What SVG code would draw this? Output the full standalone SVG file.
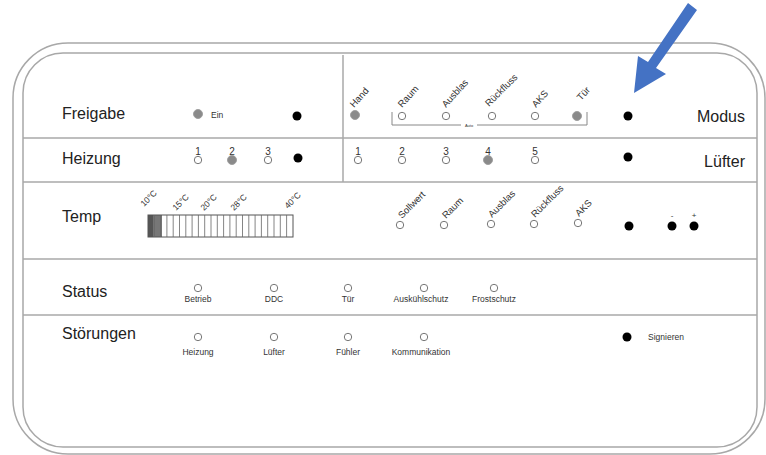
<svg xmlns="http://www.w3.org/2000/svg" width="766" height="455" viewBox="0 0 766 455">
<defs>
<style>
.frame{fill:none;stroke:#a8a8a8;stroke-width:1.5}
.div{stroke:#a8a8a8;stroke-width:1.5}
.lbl{font-family:"Liberation Sans",Arial,sans-serif;font-size:16px;fill:#222}
.sm{font-family:"Liberation Sans",Arial,sans-serif;font-size:8.5px;fill:#333}
.rot{font-family:"Liberation Sans",Arial,sans-serif;font-size:9.5px;fill:#333}
.num{font-family:"Liberation Sans",Arial,sans-serif;font-size:10px;fill:#333;text-anchor:middle}
.mid{text-anchor:middle}
.led{fill:#fff;stroke:#777;stroke-width:1}
.on{fill:#8a8a8a;stroke:#a0a0a0;stroke-width:1}
.dot{fill:#000}
.br{fill:none;stroke:#888;stroke-width:1}
.cell{stroke:#666;stroke-width:0.8}
</style>
</defs>
<rect width="766" height="455" fill="#fff"/>
<g id="frame">
<rect class="frame" x="13" y="43" width="752" height="411" rx="55" ry="55"/>
<rect class="frame" x="23" y="53" width="734" height="394" rx="40" ry="40"/>
</g>
<g id="connectors">
<line class="div" x1="23" y1="138" x2="757" y2="138"/>
<line class="div" x1="23" y1="182" x2="757" y2="182"/>
<line class="div" x1="23" y1="259" x2="757" y2="259"/>
<line class="div" x1="23" y1="315" x2="757" y2="315"/>
<line class="div" x1="343" y1="55" x2="343" y2="182"/>
</g>
<g id="freigabe">
<text class="lbl" x="62" y="119">Freigabe</text>
<circle class="on" cx="198" cy="114" r="4.5"/>
<text class="sm" x="211" y="118">Ein</text>
<circle class="dot" cx="297" cy="116" r="4.5"/>
</g>
<g id="heizung">
<text class="lbl" x="62" y="164">Heizung</text>
<text class="num" x="198" y="155">1</text>
<circle class="led" cx="198" cy="160" r="3.7"/>
<text class="num" x="232" y="155">2</text>
<circle class="on" cx="232" cy="160" r="4.5"/>
<text class="num" x="268" y="155">3</text>
<circle class="led" cx="268" cy="160" r="3.7"/>
<circle class="dot" cx="298" cy="158" r="4.5"/>
</g>
<g id="modus">
<circle class="on" cx="355" cy="115" r="4.5"/>
<text class="rot" transform="translate(354,108) rotate(-48)">Hand</text>
<circle class="led" cx="402" cy="116" r="3.7"/>
<text class="rot" transform="translate(402,108) rotate(-48)">Raum</text>
<circle class="led" cx="446" cy="116" r="3.7"/>
<text class="rot" transform="translate(446,108) rotate(-48)">Ausblas</text>
<circle class="led" cx="492" cy="116" r="3.7"/>
<text class="rot" transform="translate(489,107) rotate(-45)">Rückfluss</text>
<circle class="led" cx="535" cy="116" r="3.7"/>
<text class="rot" transform="translate(536,108) rotate(-48)">AKS</text>
<circle class="on" cx="577" cy="116" r="4.5"/>
<text class="rot" transform="translate(581,101) rotate(-48)">Tür</text>
<path class="br" d="M392,112 V125 H461 M477,125 H587 V112"/>
<text class="sm mid" x="469" y="127" style="font-size:4px">Auto</text>
<circle class="dot" cx="628" cy="116" r="4.5"/>
<text class="lbl" x="745" y="122" text-anchor="end">Modus</text>
</g>
<g id="luefter">
<text class="num" x="358" y="155">1</text>
<circle class="led" cx="358" cy="160" r="3.7"/>
<text class="num" x="402" y="155">2</text>
<circle class="led" cx="402" cy="160" r="3.7"/>
<text class="num" x="446" y="155">3</text>
<circle class="led" cx="446" cy="160" r="3.7"/>
<text class="num" x="488" y="155">4</text>
<circle class="on" cx="488" cy="160" r="4.5"/>
<text class="num" x="535" y="155">5</text>
<circle class="led" cx="535" cy="160" r="3.7"/>
<circle class="dot" cx="628" cy="157" r="4.5"/>
<text class="lbl" x="745" y="167" text-anchor="end">Lüfter</text>
</g>
<g id="temp">
<text class="lbl" x="62" y="222">Temp</text>
<rect x="148" y="215" width="14" height="22" fill="#777"/>
<rect x="148" y="215" width="5" height="22" fill="#555"/>
<rect x="148" y="215" width="145" height="22" fill="none" stroke="#555" stroke-width="1"/>
<g class="cell">
<line x1="154.3" y1="215" x2="154.3" y2="237"/><line x1="160.6" y1="215" x2="160.6" y2="237"/>
<line x1="166.9" y1="215" x2="166.9" y2="237"/><line x1="173.2" y1="215" x2="173.2" y2="237"/>
<line x1="179.5" y1="215" x2="179.5" y2="237"/><line x1="185.8" y1="215" x2="185.8" y2="237"/>
<line x1="192.1" y1="215" x2="192.1" y2="237"/><line x1="198.4" y1="215" x2="198.4" y2="237"/>
<line x1="204.7" y1="215" x2="204.7" y2="237"/><line x1="211" y1="215" x2="211" y2="237"/>
<line x1="217.3" y1="215" x2="217.3" y2="237"/><line x1="223.6" y1="215" x2="223.6" y2="237"/>
<line x1="229.9" y1="215" x2="229.9" y2="237"/><line x1="236.2" y1="215" x2="236.2" y2="237"/>
<line x1="242.5" y1="215" x2="242.5" y2="237"/><line x1="248.8" y1="215" x2="248.8" y2="237"/>
<line x1="255.1" y1="215" x2="255.1" y2="237"/><line x1="261.4" y1="215" x2="261.4" y2="237"/>
<line x1="267.7" y1="215" x2="267.7" y2="237"/><line x1="274" y1="215" x2="274" y2="237"/>
<line x1="280.3" y1="215" x2="280.3" y2="237"/><line x1="286.6" y1="215" x2="286.6" y2="237"/>
</g>
<text class="sm" style="font-size:8.5px" transform="translate(144,207) rotate(-45)">10°C</text>
<text class="sm" style="font-size:8.5px" transform="translate(176,211) rotate(-45)">15°C</text>
<text class="sm" style="font-size:8.5px" transform="translate(204,211) rotate(-45)">20°C</text>
<text class="sm" style="font-size:8.5px" transform="translate(234,211) rotate(-45)">28°C</text>
<text class="sm" style="font-size:8.5px" transform="translate(288,209) rotate(-45)">40°C</text>
<circle class="led" cx="400" cy="225" r="3.7"/>
<text class="rot" transform="translate(402,219) rotate(-45)">Sollwert</text>
<circle class="led" cx="444" cy="225" r="3.7"/>
<text class="rot" transform="translate(446,219) rotate(-45)">Raum</text>
<circle class="led" cx="491" cy="224" r="3.7"/>
<text class="rot" transform="translate(492,218) rotate(-45)">Ausblas</text>
<circle class="led" cx="534" cy="224" r="3.7"/>
<text class="rot" transform="translate(535,218) rotate(-45)">Rückfluss</text>
<circle class="led" cx="578" cy="223" r="3.7"/>
<text class="rot" transform="translate(579,217) rotate(-45)">AKS</text>
<circle class="dot" cx="629" cy="226" r="4.5"/>
<circle class="dot" cx="672" cy="226" r="4.5"/>
<circle class="dot" cx="694" cy="226" r="4.5"/>
<text class="num" x="672" y="218" style="font-size:8px">-</text>
<text class="num" x="694" y="218" style="font-size:8px">+</text>
</g>
<g id="status">
<text class="lbl" x="62" y="297">Status</text>
<circle class="led" cx="198" cy="288" r="3.7"/>
<text class="sm mid" x="198" y="302">Betrieb</text>
<circle class="led" cx="274" cy="288" r="3.7"/>
<text class="sm mid" x="274" y="302">DDC</text>
<circle class="led" cx="348" cy="288" r="3.7"/>
<text class="sm mid" x="348" y="302">Tür</text>
<circle class="led" cx="424" cy="288" r="3.7"/>
<text class="sm mid" x="421" y="302">Auskühlschutz</text>
<circle class="led" cx="494" cy="288" r="3.7"/>
<text class="sm mid" x="494" y="302">Frostschutz</text>
</g>
<g id="stoerungen">
<text class="lbl" x="62" y="339">Störungen</text>
<circle class="led" cx="198" cy="337" r="3.7"/>
<text class="sm mid" x="198" y="355">Heizung</text>
<circle class="led" cx="274" cy="337" r="3.7"/>
<text class="sm mid" x="274" y="355">Lüfter</text>
<circle class="led" cx="348" cy="337" r="3.7"/>
<text class="sm mid" x="348" y="355">Fühler</text>
<circle class="led" cx="424" cy="337" r="3.7"/>
<text class="sm mid" x="421" y="355">Kommunikation</text>
<circle class="dot" cx="627" cy="337" r="4.5"/>
<text class="sm" x="648" y="340">Signieren</text>
</g>
<g id="arrow">
<polygon fill="#4472C4" points="688,3 697,10 656,68 666,74 634,93 638,56 648,62"/>
</g>
</svg>
